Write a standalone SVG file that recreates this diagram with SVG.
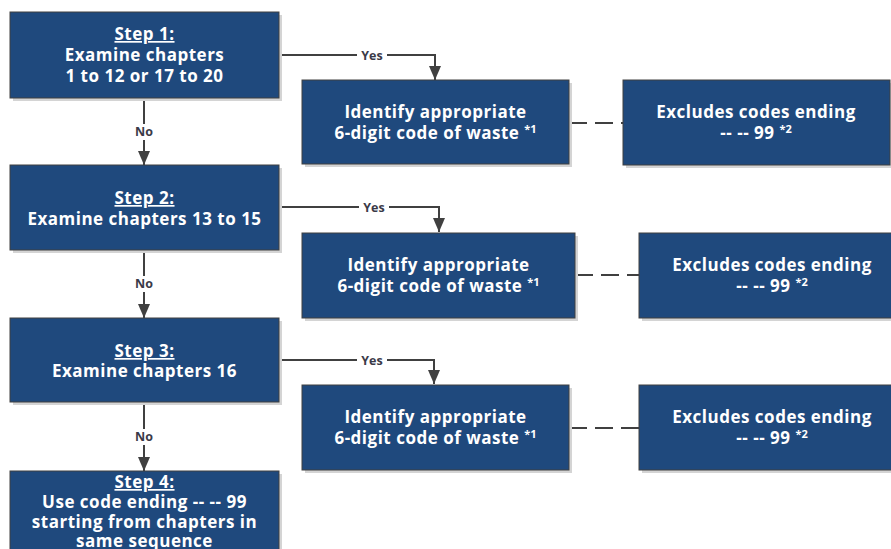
<svg xmlns="http://www.w3.org/2000/svg" width="891" height="549" viewBox="0 0 891 549">
<defs>
<marker id="arr" markerUnits="userSpaceOnUse" markerWidth="14" markerHeight="12" viewBox="0 0 14 12" refX="14" refY="6" orient="auto">
<path d="M0,0 L14,6 L0,12 z" fill="#404040"/>
</marker>
</defs>
<style>
.box{fill:#1f497d;stroke:#404040;stroke-width:1}
.sh{fill:#d4d4d4}
.t{font-family:"Open Sans","Liberation Sans",sans-serif;font-weight:bold;font-size:17px;letter-spacing:0.5px;fill:#ffffff;text-anchor:middle}
.u{text-decoration:underline}
.sup{font-size:11px;letter-spacing:0}
.c{fill:none;stroke:#404040;stroke-width:2}
.d{fill:none;stroke:#404040;stroke-width:2;stroke-dasharray:18 8}
.lb{font-family:"Open Sans","Liberation Sans",sans-serif;font-weight:bold;font-size:12.5px;fill:#3a3a48;text-anchor:middle}
</style>
<rect width="891" height="549" fill="#ffffff"/>

<g id="connectors">
<path class="c" d="M279,55 H435 V80" marker-end="url(#arr)"/>
<path class="c" d="M279,207 H439 V232" marker-end="url(#arr)"/>
<path class="c" d="M279,360 H434 V384" marker-end="url(#arr)"/>
<path class="c" d="M144,98 V165" marker-end="url(#arr)"/>
<path class="c" d="M144,250 V318" marker-end="url(#arr)"/>
<path class="c" d="M144,402 V471" marker-end="url(#arr)"/>
<path class="d" d="M569,123 H623"/>
<path class="d" d="M575,275 H639"/>
<path class="d" d="M569,428 H639"/>
<rect x="357" y="48" width="30" height="14" fill="#fff"/>
<text class="lb" x="372" y="60">Yes</text>
<rect x="359" y="200" width="30" height="14" fill="#fff"/>
<text class="lb" x="374" y="212">Yes</text>
<rect x="357" y="353" width="30" height="14" fill="#fff"/>
<text class="lb" x="372" y="365">Yes</text>
<rect x="131" y="124" width="26" height="16" fill="#fff"/>
<text class="lb" x="144" y="136">No</text>
<rect x="131" y="276" width="26" height="16" fill="#fff"/>
<text class="lb" x="144" y="288">No</text>
<rect x="131" y="429" width="26" height="16" fill="#fff"/>
<text class="lb" x="144" y="441">No</text>
</g>

<g id="step1">
<rect class="sh" x="13" y="15" width="269" height="86"/>
<rect class="box" x="10" y="12" width="269" height="86"/>
<text class="t" x="144.5" y="40"><tspan class="u">Step 1:</tspan><tspan x="144.5" dy="21">Examine chapters</tspan><tspan x="144.5" dy="21">1 to 12 or 17 to 20</tspan></text>
</g>

<g id="step2">
<rect class="sh" x="13" y="168" width="269" height="85"/>
<rect class="box" x="10" y="165" width="269" height="85"/>
<text class="t" x="144.5" y="204"><tspan class="u">Step 2:</tspan><tspan x="144.5" dy="21">Examine chapters 13 to 15</tspan></text>
</g>

<g id="step3">
<rect class="sh" x="13" y="321" width="269" height="84"/>
<rect class="box" x="10" y="318" width="269" height="84"/>
<text class="t" x="144.5" y="357"><tspan class="u">Step 3:</tspan><tspan x="144.5" dy="20">Examine chapters 16</tspan></text>
</g>

<g id="step4">
<rect class="sh" x="13" y="474" width="269" height="90"/>
<rect class="box" x="10" y="471" width="269" height="90"/>
<text class="t" x="144.5" y="488"><tspan class="u">Step 4:</tspan><tspan x="144.5" dy="20">Use code ending -- -- 99</tspan><tspan x="144.5" dy="19.5">starting from chapters in</tspan><tspan x="144.5" dy="19">same sequence</tspan></text>
</g>

<g id="identify1">
<rect class="sh" x="305" y="83" width="267" height="84"/>
<rect class="box" x="302" y="80" width="267" height="84"/>
<text class="t" x="435.5" y="118">Identify appropriate<tspan x="435.5" dy="21">6-digit code of waste </tspan><tspan class="sup" dy="-6">*1</tspan></text>
</g>

<g id="excludes1">
<rect class="sh" x="626" y="83" width="267" height="85"/>
<rect class="box" x="623" y="80" width="267" height="85"/>
<text class="t" x="756" y="118">Excludes codes ending<tspan x="756" dy="21">-- -- 99 </tspan><tspan class="sup" dy="-6">*2</tspan></text>
</g>

<g id="identify2">
<rect class="sh" x="305" y="236" width="273" height="85"/>
<rect class="box" x="302" y="233" width="273" height="85"/>
<text class="t" x="438.5" y="271">Identify appropriate<tspan x="438.5" dy="21">6-digit code of waste </tspan><tspan class="sup" dy="-6">*1</tspan></text>
</g>

<g id="excludes2">
<rect class="sh" x="642" y="236" width="260" height="85"/>
<rect class="box" x="639" y="233" width="265" height="85"/>
<text class="t" x="772" y="271">Excludes codes ending<tspan x="772" dy="21">-- -- 99 </tspan><tspan class="sup" dy="-6">*2</tspan></text>
</g>

<g id="identify3">
<rect class="sh" x="305" y="388" width="267" height="85"/>
<rect class="box" x="302" y="385" width="267" height="85"/>
<text class="t" x="435.5" y="423">Identify appropriate<tspan x="435.5" dy="21">6-digit code of waste </tspan><tspan class="sup" dy="-6">*1</tspan></text>
</g>

<g id="excludes3">
<rect class="sh" x="642" y="388" width="260" height="85"/>
<rect class="box" x="639" y="385" width="265" height="85"/>
<text class="t" x="772" y="423">Excludes codes ending<tspan x="772" dy="21">-- -- 99 </tspan><tspan class="sup" dy="-6">*2</tspan></text>
</g>
</svg>
